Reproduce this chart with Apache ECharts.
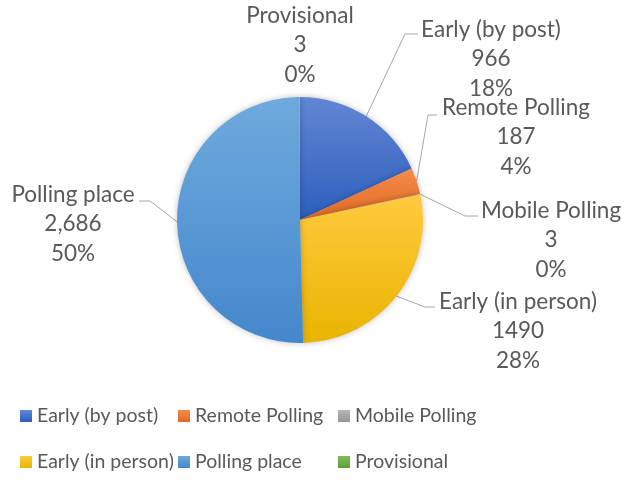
<!DOCTYPE html>
<html>
<head>
<meta charset="utf-8">
<script src="https://cdn.jsdelivr.net/npm/echarts@6/dist/echarts.min.js"></script>
<style>html,body{margin:0;padding:0;background:#fff}#c{width:624px;height:480px}</style>
</head>
<body>
<div id="c"></div>
<script>
const categories = ['Early (by post)', 'Remote Polling', 'Mobile Polling', 'Early (in person)', 'Polling place', 'Provisional'];
const values = [966, 187, 3, 1490, 2686, 3];
const valueLabels = ['966', '187', '3', '1490', '2,686', '3'];
const gradTop = ['#6286d4', '#f58c4c', '#b5b5b5', '#ffca3e', '#6eaadd', '#80bf58'];
const gradBottom = ['#2d5ebd', '#e06a20', '#979797', '#e8b400', '#4587cc', '#5d9e38'];

// label anchor (center) positions and label-line bend/end points
const labelPos = [
  {x: 491, y: 59, bend: [405, 34], end: [418, 34]},
  {x: 516, y: 137, bend: [428, 115], end: [437, 115]},
  {x: 551, y: 240, bend: [465, 216], end: [478, 216]},
  {x: 518, y: 331, bend: [425, 307], end: [435, 307]},
  {x: 73, y: 224, bend: [150, 201], end: [139, 201]},
  {x: 300, y: 45, bend: null, end: null}
];
// legend grid placement
const legendCols = [20, 178, 338];
const legendRows = [406, 452];

const total = values.reduce((a, b) => a + b, 0);
const FONT = 'Lato';
const FS = 22.5;
const LFS = 19.5;

const chart = echarts.init(document.getElementById('c'), null, {renderer: 'canvas'});
const data = categories.map((n, i) => ({
  name: n,
  value: values[i],
  itemStyle: {
    color: new echarts.graphic.LinearGradient(0, 0, 0, 1, [
      {offset: 0, color: gradTop[i]},
      {offset: 1, color: gradBottom[i]}
    ])
  },
  labelLine: {show: labelPos[i].bend !== null}
}));

const legends = categories.map((n, i) => ({
  data: [n],
  left: legendCols[i % 3],
  top: legendRows[Math.floor(i / 3)],
  padding: 0,
  orient: 'horizontal',
  icon: 'rect', itemWidth: 12, itemHeight: 12, itemGap: 5,
  textStyle: {fontFamily: FONT, fontSize: LFS, color: '#595959'}
}));

chart.setOption({
  backgroundColor: '#ffffff',
  animation: false,
  legend: legends,
  series: [{
    type: 'pie',
    center: [300, 220],
    radius: 123,
    startAngle: 90,
    clockwise: true,
    avoidLabelOverlap: false,
    itemStyle: {borderWidth: 0, shadowBlur: 6, shadowColor: 'rgba(0,0,0,0.25)'},
    label: {
      show: true,
      position: 'outside',
      fontFamily: FONT,
      fontSize: FS,
      lineHeight: 29.5,
      color: '#595959',
      align: 'center',
      formatter: p => p.name + '\n' + valueLabels[p.dataIndex] + '\n' + Math.round(p.value / total * 100) + '%'
    },
    labelLine: {show: true, length: 10, length2: 10, lineStyle: {color: '#a6a6a6', width: 1}},
    emphasis: {disabled: true},
    labelLayout: function (params) {
      const lp = labelPos[params.dataIndex];
      const res = {x: lp.x, y: lp.y, align: 'center', verticalAlign: 'middle'};
      if (lp.bend && params.labelLinePoints) {
        res.labelLinePoints = [params.labelLinePoints[0], lp.bend, lp.end];
      }
      return res;
    },
    data: data
  }]
});
</script>
</body>
</html>
